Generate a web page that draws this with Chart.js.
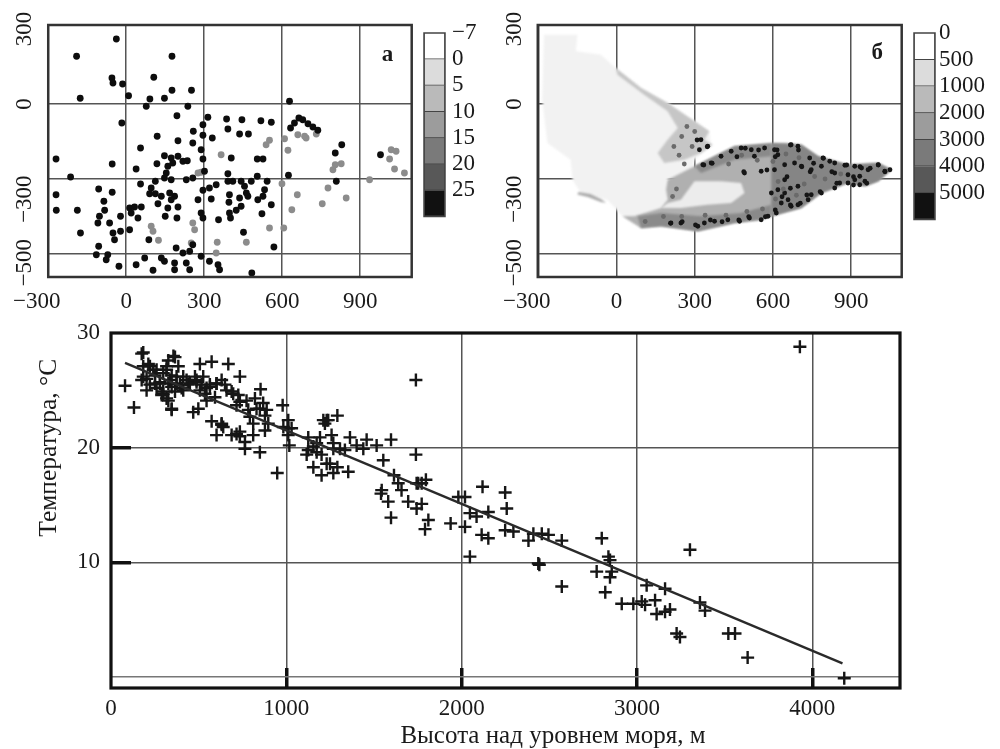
<!DOCTYPE html>
<html><head><meta charset="utf-8">
<style>
html,body{margin:0;padding:0;background:#fff;width:1000px;height:749px;overflow:hidden}
canvas{position:absolute;filter:blur(0.45px)}
</style>
<script src="https://cdn.jsdelivr.net/npm/chart.js@4"></script>
</head><body>
<canvas id="a" width="416" height="310" style="left:0;top:0"></canvas>
<canvas id="ca" width="85" height="225" style="left:415px;top:10px"></canvas>
<canvas id="b" width="416" height="310" style="left:490px;top:0"></canvas>
<canvas id="cb" width="85" height="225" style="left:905px;top:10px"></canvas>
<canvas id="c" width="1000" height="459" style="left:0;top:290px"></canvas>
<script>
// ---------- panel а: stations (x km, y km) ----------
const stationsWarm=[[-38,260],[-191,191],[176,191],[106,107],[-55,104],[-51,84],[-14,80],[-177,23],[9,33],[91,20],[77,-9],[147,23],[176,55],[251,55],[237,-9],[628,11],[195,-47],[-17,-76],[314,-53],[295,-83],[386,-60],[445,-63],[518,-67],[558,-73],[391,-100],[258,-109],[295,-125],[331,-136],[119,-129],[436,-120],[470,-120],[199,-147],[256,-156],[55,-176],[288,-183],[829,-163],[664,-56],[647,-76],[632,-96],[679,-63],[699,-79],[718,-92],[737,-105],[-270,-220],[-54,-240],[147,-207],[38,-260],[118,-239],[404,-216],[504,-220],[526,-220],[295,-220],[804,-196],[978,-203],[173,-216],[199,-209],[218,-229],[179,-236],[160,-249],[154,-276],[147,-296],[173,-303],[235,-227],[231,-303],[256,-296],[301,-269],[391,-279],[-214,-292],[624,-285],[504,-289],[808,-309],[55,-320],[112,-309],[96,-336],[-106,-340],[-54,-353],[-270,-363],[90,-359],[112,-359],[135,-369],[122,-399],[167,-356],[186,-369],[173,-383],[160,-416],[199,-412],[295,-345],[346,-323],[320,-336],[391,-309],[410,-309],[442,-309],[481,-309],[542,-309],[455,-329],[462,-356],[468,-369],[397,-363],[276,-383],[327,-380],[436,-376],[532,-343],[526,-369],[506,-383],[558,-403],[395,-393],[-86,-389],[-269,-425],[-188,-425],[-83,-425],[-103,-449],[-109,-476],[-64,-476],[-22,-449],[13,-416],[32,-412],[58,-412],[19,-436],[45,-456],[150,-449],[195,-456],[288,-436],[295,-456],[355,-463],[442,-409],[423,-425],[397,-436],[401,-456],[522,-439],[-176,-516],[13,-503],[-22,-509],[-51,-516],[-45,-543],[87,-543],[-106,-569],[-115,-603],[-71,-603],[-77,-623],[-28,-649],[38,-643],[71,-616],[103,-665],[135,-616],[147,-629],[192,-576],[218,-596],[244,-589],[256,-563],[186,-636],[186,-663],[231,-636],[244,-663],[320,-629],[353,-643],[359,-663],[288,-609],[483,-676],[568,-572],[451,-513]];
const stationsCool=[[365,-203],[622,-185],[551,-145],[538,-163],[609,-139],[1019,-183],[1038,-189],[1013,-220],[804,-243],[827,-239],[795,-263],[776,-336],[658,-363],[637,-423],[754,-399],[846,-376],[936,-303],[1032,-260],[1070,-276],[599,-319],[606,-496],[551,-496],[462,-553],[350,-553],[346,-596],[124,-545],[96,-489],[103,-509],[256,-476],[263,-503],[250,-556],[288,-273],[276,-276],[660,-123],[686,-129],[692,-136],[731,-120]];
const tempBandLabels=['−7','0','5','10','15','20','25',''];
const bandColors=['#ffffff','#dcdcdc','#bababa','#9c9c9c','#7a7a7a','#585858','#111111'];
// ---------- panel б: relief outlines (x km, y km) ----------
const reliefPlain=[[-278,277],[-150,277],[-156,211],[-60,197],[-3,144],[94,64],[196,4],[299,-69],[356,-109],[363,-169],[299,-223],[292,-263],[196,-303],[196,-449],[94,-496],[23,-449],[-35,-383],[-137,-356],[-169,-303],[-176,-223],[-265,-156],[-285,17]];
const reliefFoothill=[[-3,144],[94,64],[196,4],[299,-69],[356,-109],[337,-143],[369,-163],[324,-196],[260,-223],[183,-236],[158,-196],[196,-143],[235,-96],[196,-29],[106,37],[4,117]];
const reliefBody=[[196,-303],[299,-249],[453,-169],[645,-156],[709,-163],[773,-209],[888,-243],[1004,-236],[1055,-263],[1004,-309],[953,-329],[888,-316],[786,-356],[709,-416],[594,-449],[555,-463],[453,-476],[312,-509],[171,-489],[94,-496],[23,-449],[68,-449],[171,-416],[196,-383],[190,-343]];
const reliefBasin=[[299,-309],[401,-309],[478,-316],[491,-356],[440,-396],[350,-403],[247,-416],[171,-416],[196,-396],[247,-383]];
const reliefHighEast=[[594,-156],[709,-163],[773,-209],[888,-243],[1004,-236],[1055,-263],[1004,-309],[953,-329],[888,-316],[786,-356],[709,-416],[594,-449]];
const reliefSouthRim=[[94,-496],[171,-489],[312,-509],[453,-476],[555,-463],[594,-449],[594,-403],[478,-436],[324,-449],[171,-436],[81,-449]];
const reliefNorthRim=[[299,-249],[453,-169],[594,-156],[594,-209],[453,-223],[324,-276]];
const reliefSouthWestStrip=[[-146,-352],[-100,-360],[-60,-380],[-40,-395],[-60,-392],[-110,-372],[-150,-362]];
const reliefPeaks=[[331,-243],[363,-236],[401,-209],[440,-189],[478,-176],[517,-183],[568,-176],[606,-183],[619,-203],[670,-163],[696,-169],[741,-216],[792,-216],[818,-229],[837,-236],[876,-245],[914,-249],[940,-256],[965,-263],[1004,-243],[1029,-269],[1049,-263],[933,-289],[953,-309],[914,-303],[888,-283],[837,-276],[786,-249],[747,-263],[709,-249],[683,-236],[645,-243],[606,-263],[555,-269],[491,-276],[529,-209],[312,-489],[337,-476],[376,-469],[427,-463],[472,-469],[510,-456],[555,-463],[581,-449],[613,-436],[670,-409],[696,-403],[658,-383],[735,-383],[786,-356],[837,-336],[888,-316],[933,-323],[645,-356],[619,-343],[594,-356],[632,-396],[747,-363],[645,-303],[696,-329],[856,-316],[247,-476],[209,-476],[324,-143],[350,-169],[318,-183],[609,-211],[616,-184],[667,-164],[698,-184],[756,-237],[794,-217],[826,-271],[883,-244],[934,-251],[973,-257],[1004,-244],[1030,-271],[909,-291],[960,-317],[909,-324],[845,-317],[781,-351],[730,-364],[705,-397],[667,-404],[635,-371],[609,-424],[654,-291],[711,-251],[743,-271],[667,-337],[303,-484],[207,-477],[252,-471],[360,-464],[405,-471],[469,-464],[507,-451],[571,-451],[335,-244],[367,-237],[462,-211],[494,-177],[545,-184],[309,-144],[348,-171],[577,-264],[488,-271]];
const reliefSlopes=[[430,-240],[480,-205],[540,-225],[600,-230],[650,-200],[700,-215],[760,-290],[800,-300],[860,-280],[640,-340],[690,-365],[610,-380],[560,-420],[500,-430],[420,-445],[340,-445],[250,-450],[180,-450],[110,-470],[270,-90],[250,-130],[300,-110],[220,-170],[290,-170],[240,-205],[230,-340],[215,-370],[260,-240],[620,-310],[720,-320]];
const heightBandLabels=['0','500','1000','2000','3000','4000','5000',''];
// ---------- lower panel: height (m), temperature (°C) ----------
const tempVsHeight=[[184,28.3],[175,28.2],[80,25.4],[131,23.5],[222,27.1],[203,26],[251,26.3],[279,25.7],[175,25.9],[327,27.6],[365,27.9],[384,27.1],[317,26.8],[336,25.9],[374,26.2],[412,26.2],[317,24.3],[346,23.3],[298,24.9],[365,24.9],[403,25.2],[441,25.5],[507,27.3],[574,27.5],[669,27.3],[735,26.2],[526,26.2],[488,25.7],[545,25.2],[602,25.6],[659,25],[469,23.1],[498,23.4],[545,24.1],[593,24.4],[631,22],[602,21.1],[574,22.3],[697,24.7],[735,24],[716,21.2],[735,21],[688,21.1],[764,19.9],[849,19.6],[853,25.1],[783,23.3],[830,23.4],[878,22.8],[811,22.1],[897,22.1],[811,21.1],[878,21.5],[979,23.7],[1011,22.4],[983,21.8],[1030,21.7],[1011,21.1],[1017,20.2],[948,17.8],[1125,20.9],[1116,19.4],[1192,20.9],[1173,19.6],[1154,18.3],[1201,17.6],[1230,18.6],[1268,17.8],[1353,17.9],[1230,22.4],[1220,22.1],[1291,22.8],[1258,21.1],[1306,19.9],[1268,19.9],[1363,20.9],[1401,20.2],[1458,20.7],[1515,20.2],[1439,19.9],[1597,20.7],[1553,18.9],[1739,19.4],[1739,25.9],[1614,17.6],[1638,16.9],[1657,16.3],[1544,16.3],[1540,16],[1581,15.3],[1597,13.9],[1695,15.3],[1772,16.9],[1752,16.9],[1796,17.2],[1772,15.1],[1743,14.7],[1810,13.7],[1791,12.9],[1937,13.4],[1981,15.7],[2019,15.7],[2019,13.1],[2119,16.6],[2047,14.3],[2085,14],[2152,14.4],[2114,12.4],[2152,12.1],[2047,10.5],[2248,16.1],[2257,14.7],[2248,12.8],[2295,12.7],[2381,11.9],[2409,12.5],[2457,12.5],[2495,12.4],[2571,11.9],[2443,9.8],[2437,9.9],[2571,7.9],[2799,12.1],[2837,10.5],[2846,10.2],[2770,9.2],[2856,9.2],[2846,8.7],[2819,7.4],[3302,11.1],[3929,28.8],[2913,6.4],[2979,6.4],[3027,6.6],[3046,6.3],[3103,6.7],[3055,8],[3160,7.7],[3112,5.5],[3160,5.7],[3188,5.9],[3226,3.8],[3245,3.5],[3359,6.5],[3388,5.8],[3521,3.8],[3559,3.8],[3631,1.7],[4182,-0.1],[356,28],[184,26.2],[241,26.8],[317,27.1],[346,26.3],[203,25],[251,25.6],[298,24.7],[327,24.1],[346,23.4],[279,25.6],[327,25.6],[374,25.6],[412,25],[450,25.6],[488,25.9],[507,25],[536,24.7],[564,25.3],[602,25.6],[184,27.1],[213,27.3],[260,26.8],[298,26.5],[222,25.5],[260,25.2],[289,24.6],[346,25.3],[393,25.5],[431,25.9],[479,26.2],[517,25.5],[564,25.5],[631,25.9],[650,25.5],[688,24.9],[726,24.6],[773,24.1],[821,24.3],[868,23.9],[716,23.7],[792,22.7],[849,23.4],[888,23.3],[631,22.1],[640,21.8],[735,21.4],[764,20.5],[1154,20.1],[1173,20.4],[1201,19.4],[1268,20.4],[1334,19.8],[1249,18.6],[1291,18.3],[1211,22.4],[1239,22.4],[1011,21.7],[1125,19.8],[1743,16.9]];
const trendLine=[[80,27.4],[4172,1.2]];
const mapXTicks=[-300,0,300,600,900];
const mapXLabels=['−300','0','300','600','900'];
const mapYTicks=[300,0,-300,-600];
const mapYLabels=['300','0','−300','−500'];
const lowerXTicks=[0,1000,2000,3000,4000];
const lowerYTicks=[30,20,10,0];
const lowerYLabels=['30','20','10',''];

const serif='"Liberation Serif","Times New Roman",serif';
const tickFont={family:serif,size:23,lineHeight:1};
const tickColor='#1a1a1a';
Chart.defaults.animation=false;
Chart.defaults.responsive=false;
Chart.defaults.maintainAspectRatio=false;
Chart.defaults.font.family=serif;
const asXY=p=>p.map(([x,y])=>({x,y}));
const nb='\u00a0';

const frame={id:'frame',afterDraw(ch,_,o){const a=ch.chartArea,c=ch.ctx;c.save();c.strokeStyle=o.color;c.lineWidth=o.width;c.strokeRect(a.left,a.top,a.right-a.left,a.bottom-a.top);c.restore();}};
const polygons={id:'polygons',beforeDatasetsDraw(ch){const c=ch.ctx,a=ch.chartArea;c.save();c.beginPath();c.rect(a.left,a.top,a.right-a.left,a.bottom-a.top);c.clip();c.filter='blur(1.2px)';
  ch.data.datasets.forEach((d,i)=>{if(!d.polygon)return;const pts=ch.getDatasetMeta(i).data;c.beginPath();pts.forEach((p,k)=>k?c.lineTo(p.x,p.y):c.moveTo(p.x,p.y));c.closePath();c.fillStyle=d.polygon;c.fill();});c.restore();}};
const notes={id:'notes',afterDraw(ch,_,o){const c=ch.ctx;(o.items||[]).forEach(n=>{c.save();c.translate(ch.scales.x.getPixelForValue(n.x),ch.scales.y.getPixelForValue(n.y));if(n.rot)c.rotate(n.rot);c.font=n.font;c.fillStyle=tickColor;c.textAlign='center';c.textBaseline='middle';c.fillText(n.text,0,0);c.restore();});}};

function mapScales(xmin,xmax){
 const yPad=['','',nb.repeat(7),nb.repeat(3)];
 const xPad=[nb.repeat(4),'','','',''];
 return {
  x:{type:'linear',min:xmin,max:xmax,afterBuildTicks:s=>{s.ticks=mapXTicks.map(v=>({value:v}));},afterFit:s=>{s.height=33;},
     border:{display:false},grid:{color:'#555',lineWidth:1.5,drawTicks:false},
     ticks:{font:tickFont,color:tickColor,padding:13,maxRotation:0,autoSkip:false,
       callback:v=>{const i=mapXTicks.indexOf(v);return mapXLabels[i]+xPad[i];}}},
  y:{type:'linear',min:-692,max:316,afterBuildTicks:s=>{s.ticks=mapYTicks.map(v=>({value:v}));},afterFit:s=>{s.width=46.7;},
     border:{display:false},grid:{color:c=>c.tick&&c.tick.value===300?'rgba(0,0,0,0)':'#555',lineWidth:1.5,drawTicks:false},
     ticks:{font:tickFont,color:tickColor,minRotation:90,maxRotation:90,crossAlign:'center',padding:-21,autoSkip:false,
       callback:v=>{const i=mapYTicks.indexOf(v);return mapYLabels[i]+yPad[i];}}}
 };
}
const basePlugins={legend:{display:false},tooltip:{enabled:false}};

new Chart('a',{type:'scatter',plugins:[frame,notes],
 data:{datasets:[
  {label:'warm',data:asXY(stationsWarm),pointRadius:3.4,pointBackgroundColor:'#0d0d0d',pointBorderWidth:0},
  {label:'cool',data:asXY(stationsCool),pointRadius:3.4,pointBackgroundColor:'#8c8c8c',pointBorderWidth:0}]},
 options:{layout:{padding:{top:25,right:4.3}},scales:mapScales(-300,1098),
  plugins:{...basePlugins,frame:{color:'#333',width:2.5},notes:{items:[{text:'а',x:1005,y:196,font:'bold 23px '+serif}]}}}});

new Chart('b',{type:'scatter',plugins:[polygons,frame,notes],
 data:{datasets:[
  {label:'plain',data:asXY(reliefPlain),polygon:'#f2f2f2',pointRadius:0},
  {label:'foothill',data:asXY(reliefFoothill),polygon:'#c6c6c6',pointRadius:0},
  {label:'body',data:asXY(reliefBody),polygon:'#b0b0b0',pointRadius:0},
  {label:'basin',data:asXY(reliefBasin),polygon:'#ececec',pointRadius:0},
  {label:'high east',data:asXY(reliefHighEast),polygon:'#858585',pointRadius:0},
  {label:'south rim',data:asXY(reliefSouthRim),polygon:'#8a8a8a',pointRadius:0},
  {label:'north rim',data:asXY(reliefNorthRim),polygon:'#8a8a8a',pointRadius:0},
  {label:'south-west strip',data:asXY(reliefSouthWestStrip),polygon:'#aaaaaa',pointRadius:0},
  {label:'slopes',data:asXY(reliefSlopes),pointRadius:2.4,pointBackgroundColor:'#6a6a6a',pointBorderWidth:0},
  {label:'peaks',data:asXY(reliefPeaks),pointRadius:2.4,pointBackgroundColor:'#161616',pointBorderWidth:0}]},
 options:{layout:{padding:{top:25,right:4.3}},scales:mapScales(-302,1094),
  plugins:{...basePlugins,frame:{color:'#333',width:2.5},notes:{items:[{text:'б',x:1000,y:204,font:'bold 23px '+serif}]}}}});

function colorbar(id,labels,pad){
 new Chart(id,{type:'bar',plugins:[frame],
  data:{labels:[''],datasets:bandColors.map(c=>({data:[1],backgroundColor:c,borderColor:'#444',borderWidth:1,barPercentage:1,categoryPercentage:1}))},
  options:{layout:{padding:{left:9,top:23,bottom:8}},
   scales:{x:{stacked:true,display:false},
    y:{stacked:true,position:'right',reverse:true,min:0,max:7,afterFit:s=>{s.width=55;},border:{display:false},grid:{display:false,drawTicks:false},
       ticks:{stepSize:1,autoSkip:false,font:tickFont,color:tickColor,padding:pad,callback:v=>labels[v]}}},
   plugins:{...basePlugins,frame:{color:'#444',width:1.5}}}});
}
colorbar('ca',tempBandLabels,7);
colorbar('cb',heightBandLabels,4);

new Chart('c',{type:'scatter',plugins:[frame,notes],
 data:{datasets:[
  {label:'trend',data:asXY(trendLine),showLine:true,borderColor:'#2a2a2a',borderWidth:2.4,pointRadius:0},
  {label:'stations',data:asXY(tempVsHeight),pointStyle:'cross',pointRadius:6.5,pointBorderColor:'#161616',pointBorderWidth:2.4,pointBackgroundColor:'#161616'}]},
 options:{layout:{padding:{top:43,right:100}},
  scales:{
   x:{type:'linear',min:0,max:4500,afterBuildTicks:s=>{s.ticks=lowerXTicks.map(v=>({value:v}));},afterFit:s=>{s.height=61;},
      border:{display:false},
      grid:{color:'#555',lineWidth:1.5,tickLength:-20,tickWidth:3.5,tickColor:c=>c.tick&&c.tick.value===0?'rgba(0,0,0,0)':'#111'},
      ticks:{font:tickFont,color:tickColor,padding:29,maxRotation:0,autoSkip:false,callback:v=>String(v)}},
   y:{type:'linear',min:-0.95,max:30,afterBuildTicks:s=>{s.ticks=lowerYTicks.map(v=>({value:v}));},afterFit:s=>{s.width=111;},
      border:{display:false},
      grid:{color:c=>c.tick&&c.tick.value===0?'#777':'#555',lineWidth:1.5,tickLength:-20,tickWidth:3.5,tickColor:c=>c.tick&&(c.tick.value===20||c.tick.value===10)?'#111':'rgba(0,0,0,0)'},
      ticks:{font:tickFont,color:tickColor,padding:31,autoSkip:false,callback:v=>lowerYLabels[lowerYTicks.indexOf(v)]}}},
  plugins:{...basePlugins,frame:{color:'#111',width:3.2},
   notes:{items:[
    {text:'Высота над уровнем моря, м',x:2521,y:-5.2,font:'25px '+serif},
    {text:'Температура, °С',x:-354,y:20,rot:-Math.PI/2,font:'25.5px '+serif}]}}}});
</script>
</body></html>
